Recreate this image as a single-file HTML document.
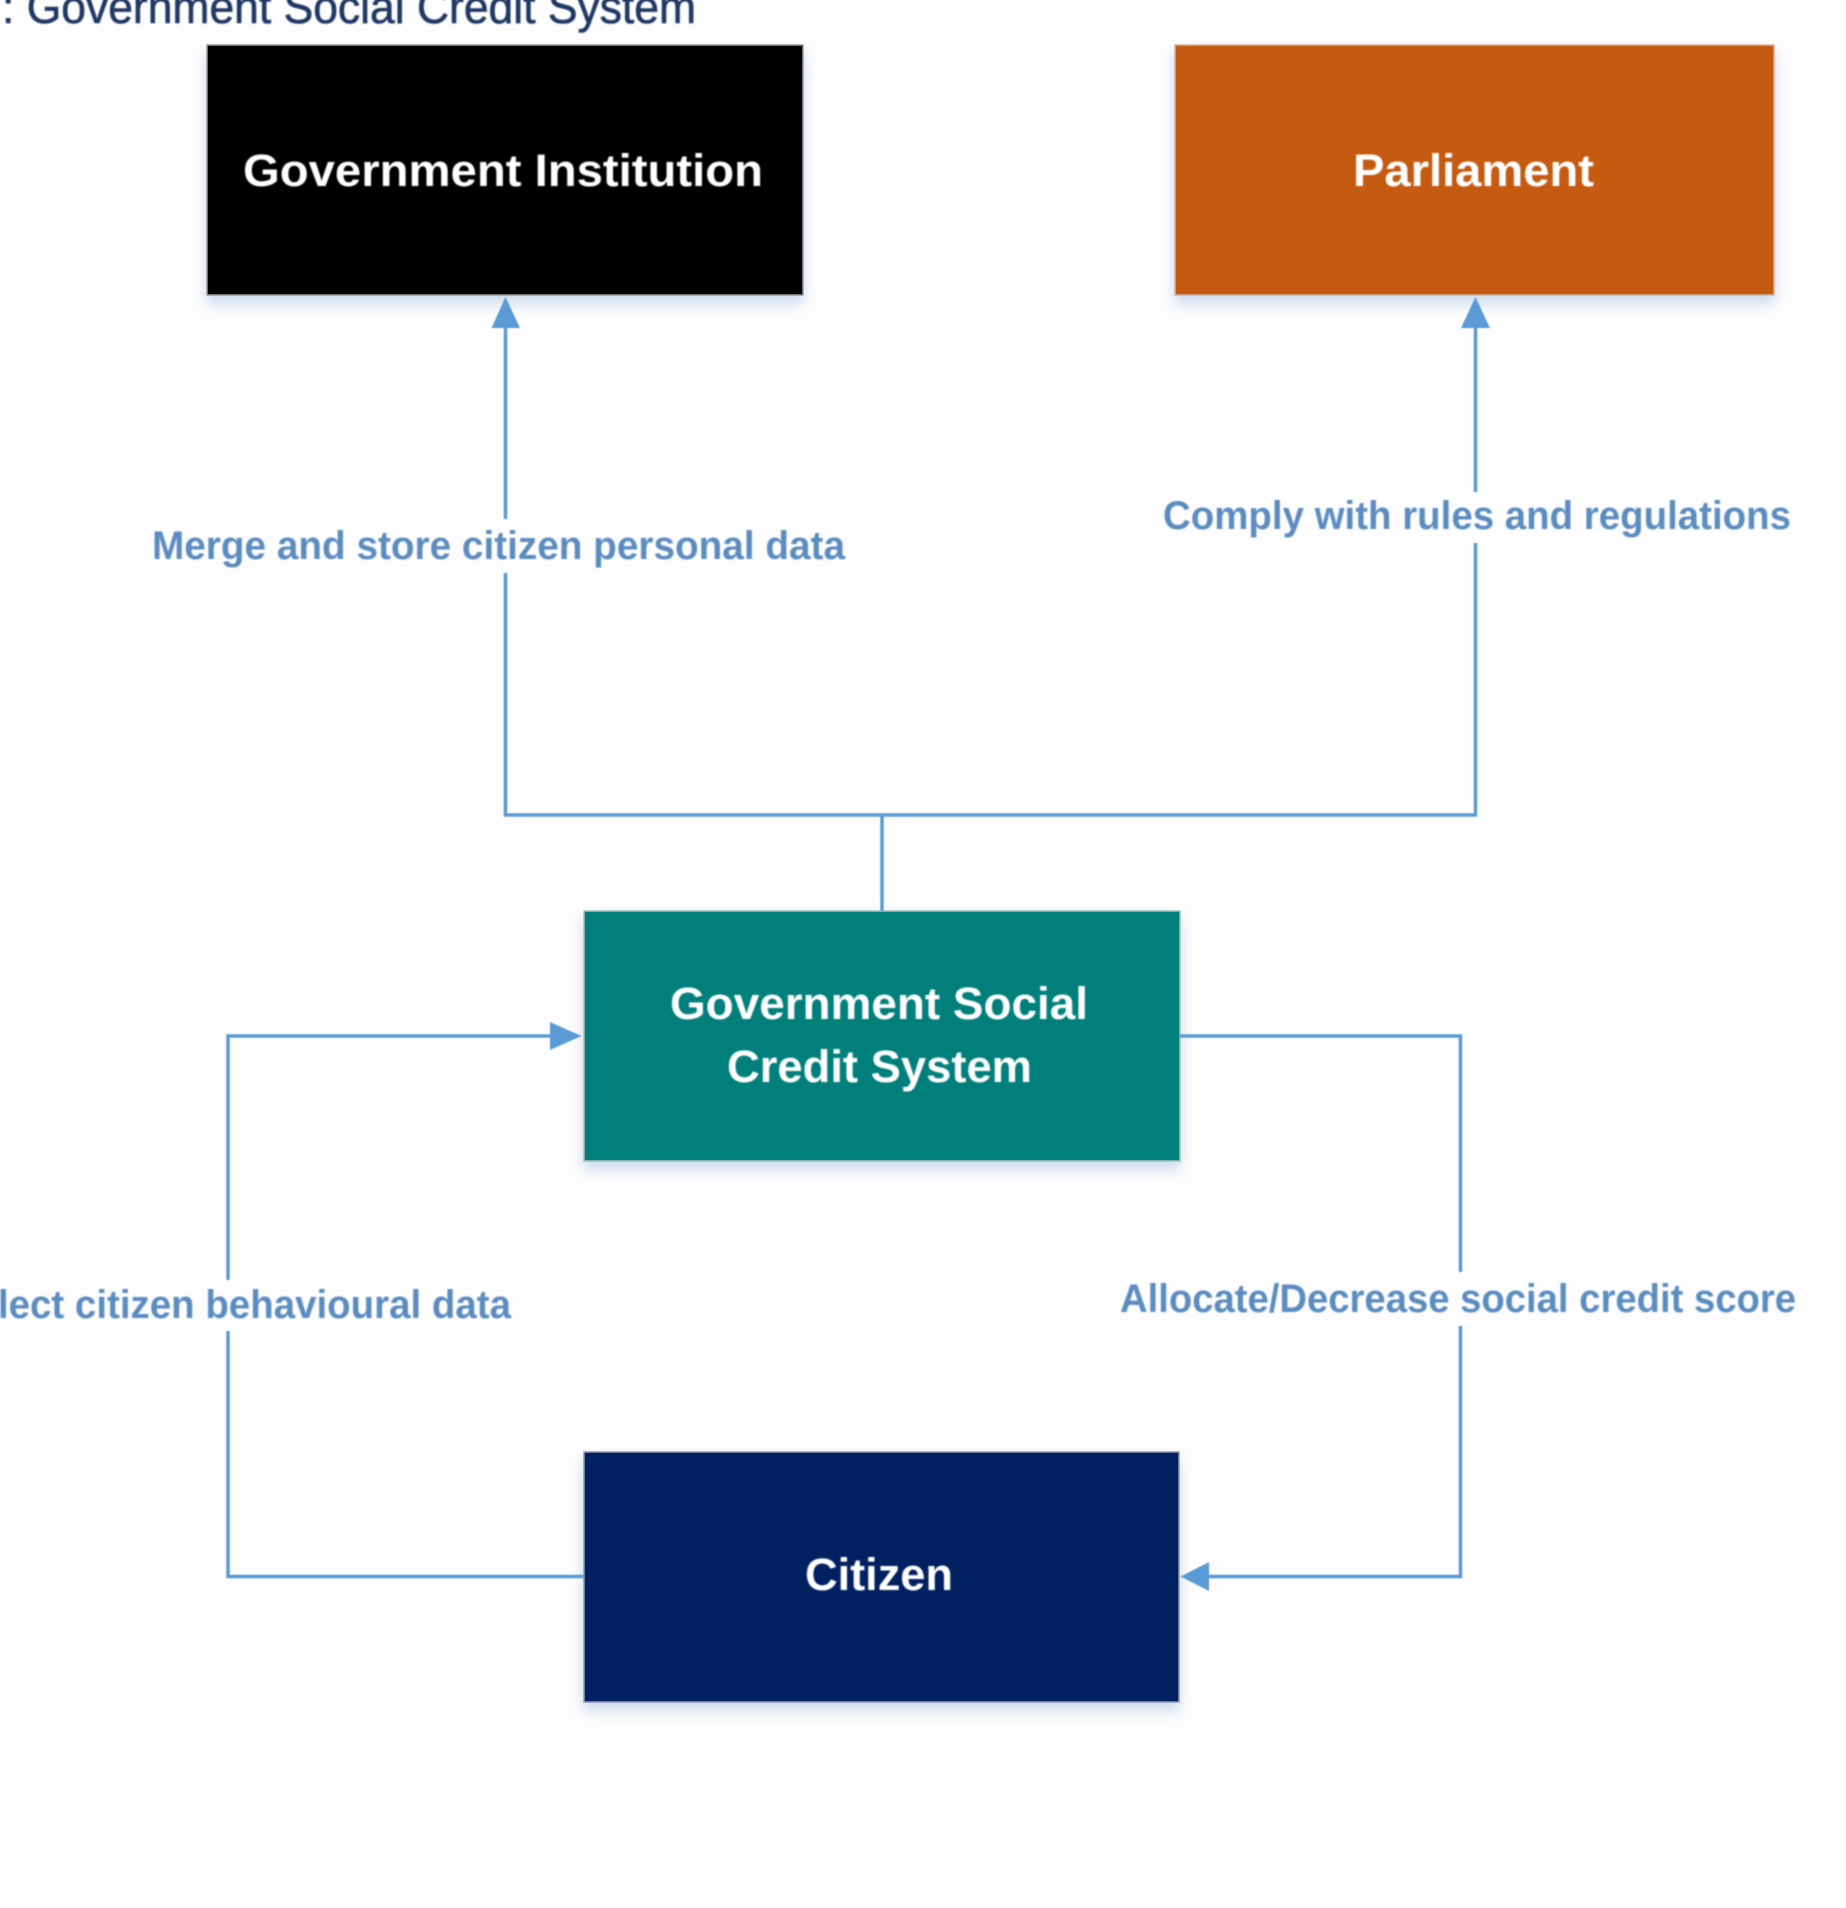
<!DOCTYPE html>
<html><head><meta charset="utf-8"><style>
html,body{margin:0;padding:0;background:#fdfdfd;width:1846px;height:1908px;overflow:hidden}
svg{display:block}
text{font-family:"Liberation Sans",sans-serif;font-weight:bold}
.b{stroke-width:1.5;filter:drop-shadow(0 8px 7px rgba(91,140,200,.3))}
.w{fill:#fff;font-size:45px}
.l{fill:#5b8cc0;font-size:40px}
.ln{fill:none;stroke:#5b9bd5;stroke-width:3.5;filter:blur(.4px)}
.a{fill:#5b9bd5;filter:blur(.4px)}
.t{filter:blur(.8px)}
</style></head><body>
<svg width="1846" height="1908" viewBox="0 0 1846 1908" xmlns="http://www.w3.org/2000/svg">
<rect width="1846" height="1908" fill="#fdfdfd"/>
<text class="t" x="2" y="23" textLength="694" lengthAdjust="spacingAndGlyphs" style="font-weight:normal;font-size:46px;fill:#1f3864;stroke:#1f3864;stroke-width:.6">: Government Social Credit System</text>

<rect class="b" x="207" y="45" width="596" height="250" fill="#000" stroke="#999"/>
<rect class="b" x="1175" y="45" width="599" height="250" fill="#c55a11" stroke="#d0b5a5"/>
<rect class="b" x="584" y="911" width="596" height="250" fill="#007f7b" stroke="#a9c0bc"/>
<rect class="b" x="584" y="1452" width="595" height="250" fill="#002060" stroke="#8f9ab3"/>

<path class="ln" d="M505.5 325V519M505.5 573V815H1475.5V543M1475.5 492V325"/>
<path class="ln" d="M882 815V911"/>
<path class="ln" d="M553 1036H228V1280M228 1331V1576.5H584"/>
<path class="ln" d="M1180 1036H1460.5V1272M1460.5 1326V1576.5H1206"/>

<polygon class="a" points="505.5,297 520,328 491.5,328"/>
<polygon class="a" points="1475.5,297 1490,328 1461,328"/>
<polygon class="a" points="581.5,1036 550,1022 550,1050"/>
<polygon class="a" points="1180.5,1576.5 1209,1562 1209,1591"/>

<g class="t">
<text class="w" x="243" y="186" textLength="520" lengthAdjust="spacingAndGlyphs">Government Institution</text>
<text class="w" x="1353" y="186" textLength="241" lengthAdjust="spacingAndGlyphs">Parliament</text>
<text class="w" x="670" y="1019" textLength="418" lengthAdjust="spacingAndGlyphs">Government Social</text>
<text class="w" x="727" y="1082" textLength="305" lengthAdjust="spacingAndGlyphs">Credit System</text>
<text class="w" x="805" y="1590" textLength="148" lengthAdjust="spacingAndGlyphs">Citizen</text>
<text class="l" x="152" y="559" textLength="693" lengthAdjust="spacingAndGlyphs">Merge and store citizen personal data</text>
<text class="l" x="1163" y="529" textLength="628" lengthAdjust="spacingAndGlyphs">Comply with rules and regulations</text>
<text class="l" x="-64" y="1318" textLength="575" lengthAdjust="spacingAndGlyphs">Collect citizen behavioural data</text>
<text class="l" x="1120" y="1312" textLength="676" lengthAdjust="spacingAndGlyphs">Allocate/Decrease social credit score</text>
</g>
</svg>
</body></html>
